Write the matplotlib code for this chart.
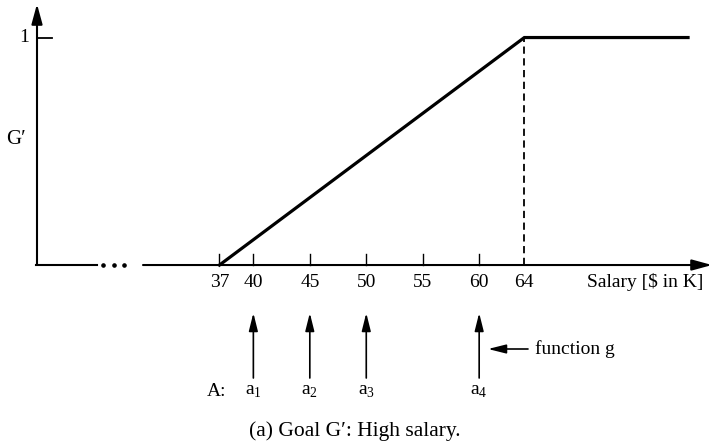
import matplotlib.pyplot as plt
from matplotlib.transforms import blended_transform_factory

plt.rcParams['font.family'] = ['Liberation Serif', 'DejaVu Serif']
plt.rcParams['mathtext.fontset'] = 'custom'
plt.rcParams['mathtext.rm'] = 'Liberation Serif'

# salary axis (thousands of dollars) and membership of goal G'
salary_ticks = [37, 40, 45, 50, 55, 60, 64]
curve_salary = [37, 64, 78.5]
curve_g = [0, 1, 1]

# alternatives and the salary each one maps to
alt_names = [r'$\mathrm{a}_1$', r'$\mathrm{a}_2$', r'$\mathrm{a}_3$', r'$\mathrm{a}_4$']
alt_salary = [40, 45, 50, 60]

W, H = 713, 442
FS = 14


def fx(p):
    return p / W


def fy(p):
    return 1 - p / H


fig = plt.figure(figsize=(W / 100, H / 100), dpi=100)
ax = fig.add_axes([0, 0, 1, 1])
ax.set_xlim(17.56, 80.71)
ax.set_ylim(-0.778, 1.165)
ax.axis('off')

x_data_y_axes = blended_transform_factory(ax.transData, ax.transAxes)
x_axes_y_data = blended_transform_factory(ax.transAxes, ax.transData)

head = dict(arrowstyle='-|>,head_length=1.1,head_width=0.3', color='black',
            lw=1.5, mutation_scale=11, shrinkA=0, shrinkB=0)

# y axis with arrow and the "1" tick
ax.annotate('', xy=(fx(37), fy(4)), xytext=(fx(37), fy(265)),
            xycoords='axes fraction', arrowprops=head)
ax.plot([fx(37), fx(52)], [1, 1], color='black', lw=1.3, transform=x_axes_y_data)
ax.text(fx(24), 1, '1', fontsize=FS, ha='center', va='center', transform=x_axes_y_data)
ax.text(fx(16), fy(139), 'G\u2032', fontsize=FS + 1, ha='center', va='center',
        transform=ax.transAxes)

# x axis, broken near the origin
ax.plot([fx(36), fx(97)], [0, 0], color='black', lw=1.5, transform=x_axes_y_data)
ax.plot([fx(103), fx(113.5), fx(124)], [0, 0, 0], 'o', color='black', ms=2.3,
        transform=x_axes_y_data)
ax.annotate('', xy=(fx(712), 0), xytext=(fx(143), 0), xycoords=x_axes_y_data,
            arrowprops=head)

tick_h = 11 / 227.5
for s in salary_ticks:
    if s != curve_salary[1]:
        ax.plot([s, s], [0, tick_h], color='black', lw=1.0)
    ax.text(s, -0.076, str(s), fontsize=FS, ha='center', va='center')
ax.text(fx(645), -0.076, 'Salary [\\$ in K]', fontsize=FS, ha='center', va='center',
        transform=x_axes_y_data)

# dashed drop line at the saturation point
ax.plot([curve_salary[1]] * 2, [0, curve_g[1]], color='black', lw=1.3,
        ls=(0, (4, 2.5)))

# membership function
ax.plot(curve_salary, curve_g, color='black', lw=2.3, solid_joinstyle='miter')

# mapping g from alternatives to salaries
alt_head = dict(arrowstyle='-|>,head_length=1.2,head_width=0.3', color='black',
                lw=1.2, mutation_scale=9, shrinkA=0, shrinkB=0)
for name, s in zip(alt_names, alt_salary):
    ax.annotate('', xy=(s, fy(313)), xytext=(s, fy(378)), xycoords=x_data_y_axes,
                arrowprops=alt_head)
    ax.text(s, fy(392), name, fontsize=FS, ha='center', va='center',
            transform=x_data_y_axes)
ax.text(fx(217), fy(392), 'A:', fontsize=FS, ha='center', va='center',
        transform=ax.transAxes)

ax.annotate('', xy=(fx(488), fy(349)), xytext=(fx(528), fy(349)),
            xycoords='axes fraction', arrowprops=alt_head)
ax.text(fx(535), fy(349), 'function g', fontsize=FS, ha='left', va='center',
        transform=ax.transAxes)

ax.text(fx(355), fy(431), '(a) Goal G\u2032: High salary.', fontsize=15.5,
        ha='center', va='center', transform=ax.transAxes)

fig.savefig('out.png', dpi=100, facecolor='white')
